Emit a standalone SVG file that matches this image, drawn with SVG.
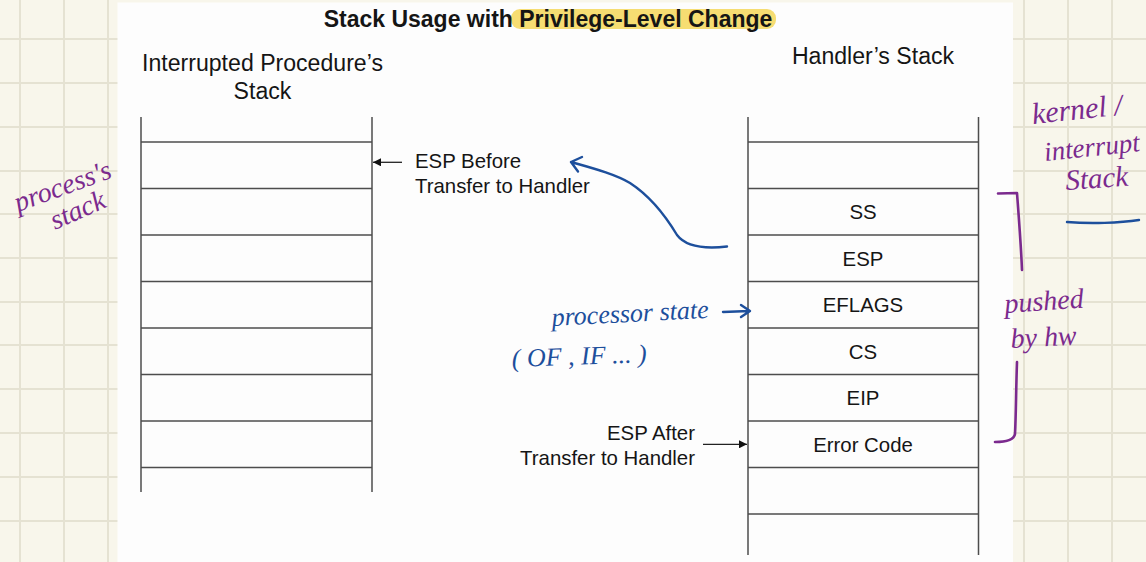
<svg xmlns="http://www.w3.org/2000/svg" width="1146" height="562" viewBox="0 0 1146 562">
<defs>
<style>
.grid{stroke:#e5e2d2;stroke-width:2}
.cell{stroke:#4d4d4d;stroke-width:1.5;fill:none}
.t{font-family:"Liberation Sans",Arial,sans-serif;fill:#151515}
.h{font-size:23.1px}
.b{font-size:20.4px}
.title{font-size:23px;font-weight:bold}
.conn{stroke:#222;stroke-width:1.3;fill:none}
.hw{font-family:"Liberation Serif",serif;font-style:italic}
.pur{fill:#7b2a8e}
.blu{fill:#1d4f9c}
.pstroke{stroke:#7b2a8e;stroke-width:2.6;fill:none;stroke-linecap:round;stroke-linejoin:round}
.bstroke{stroke:#1d4f9c;stroke-width:2.4;fill:none;stroke-linecap:round;stroke-linejoin:round}
</style>
<marker id="ah" viewBox="0 0 10 10" refX="10" refY="5" markerWidth="10" markerHeight="8" markerUnits="userSpaceOnUse" orient="auto">
<path d="M0,0 L10,5 L0,10 z" fill="#111"/>
</marker>
</defs>

<g id="background">
<rect x="0" y="0" width="1146" height="562" fill="#f8f6eb"/>
<g class="grid">
<line x1="20" y1="0" x2="20" y2="562"/>
<line x1="64" y1="0" x2="64" y2="562"/>
<line x1="108" y1="0" x2="108" y2="562"/>
<line x1="1024" y1="0" x2="1024" y2="562"/>
<line x1="1068" y1="0" x2="1068" y2="562"/>
<line x1="1112" y1="0" x2="1112" y2="562"/>
<line x1="0" y1="39" x2="1146" y2="39"/>
<line x1="0" y1="83" x2="1146" y2="83"/>
<line x1="0" y1="127" x2="1146" y2="127"/>
<line x1="0" y1="171" x2="1146" y2="171"/>
<line x1="0" y1="214" x2="1146" y2="214"/>
<line x1="0" y1="258" x2="1146" y2="258"/>
<line x1="0" y1="302" x2="1146" y2="302"/>
<line x1="0" y1="345" x2="1146" y2="345"/>
<line x1="0" y1="389" x2="1146" y2="389"/>
<line x1="0" y1="433" x2="1146" y2="433"/>
<line x1="0" y1="477" x2="1146" y2="477"/>
<line x1="0" y1="521" x2="1146" y2="521"/>
</g>
<rect x="117.5" y="2.5" width="895.5" height="560" fill="#fdfdfd"/>
</g>

<g id="title">
<rect x="511" y="9" width="265" height="20" rx="9" fill="#f6dd72"/>
<text class="t title" x="548" y="26.5" text-anchor="middle">Stack Usage with Privilege-Level Change</text>
</g>

<g id="left-stack">
<text class="t h" x="262.5" y="71" text-anchor="middle">Interrupted Procedure’s</text>
<text class="t h" x="262.5" y="98.5" text-anchor="middle">Stack</text>
<g class="cell">
<line x1="141" y1="117" x2="141" y2="492"/>
<line x1="372" y1="117" x2="372" y2="492"/>
<line x1="141" y1="142" x2="372" y2="142"/>
<line x1="141" y1="188.5" x2="372" y2="188.5"/>
<line x1="141" y1="235" x2="372" y2="235"/>
<line x1="141" y1="281.5" x2="372" y2="281.5"/>
<line x1="141" y1="328" x2="372" y2="328"/>
<line x1="141" y1="374.5" x2="372" y2="374.5"/>
<line x1="141" y1="421" x2="372" y2="421"/>
<line x1="141" y1="467.5" x2="372" y2="467.5"/>
</g>
</g>

<g id="right-stack">
<text class="t h" x="873" y="64" text-anchor="middle">Handler’s Stack</text>
<g class="cell">
<line x1="748" y1="117" x2="748" y2="555"/>
<line x1="978.5" y1="117" x2="978.5" y2="555"/>
<line x1="748" y1="142" x2="978.5" y2="142"/>
<line x1="748" y1="188.5" x2="978.5" y2="188.5"/>
<line x1="748" y1="235" x2="978.5" y2="235"/>
<line x1="748" y1="281.5" x2="978.5" y2="281.5"/>
<line x1="748" y1="328" x2="978.5" y2="328"/>
<line x1="748" y1="374.5" x2="978.5" y2="374.5"/>
<line x1="748" y1="421" x2="978.5" y2="421"/>
<line x1="748" y1="467.5" x2="978.5" y2="467.5"/>
<line x1="748" y1="514" x2="978.5" y2="514"/>
</g>
<g id="cell-ss"><text class="t b" x="863" y="219.2" text-anchor="middle">SS</text></g>
<g id="cell-esp"><text class="t b" x="863" y="265.7" text-anchor="middle">ESP</text></g>
<g id="cell-eflags"><text class="t b" x="863" y="312.2" text-anchor="middle">EFLAGS</text></g>
<g id="cell-cs"><text class="t b" x="863" y="358.7" text-anchor="middle">CS</text></g>
<g id="cell-eip"><text class="t b" x="863" y="405.2" text-anchor="middle">EIP</text></g>
<g id="cell-error"><text class="t b" x="863" y="451.8" text-anchor="middle">Error Code</text></g>
</g>

<g id="label-esp-before">
<text class="t b" x="415" y="167.5">ESP Before</text>
<text class="t b" x="415" y="192.7">Transfer to Handler</text>
</g>

<g id="label-esp-after">
<text class="t b" x="695" y="439.5" text-anchor="end">ESP After</text>
<text class="t b" x="695" y="464.5" text-anchor="end">Transfer to Handler</text>
</g>

<g id="connectors">
<line class="conn" x1="402" y1="162.3" x2="373" y2="162.3" marker-end="url(#ah)"/>
<line class="conn" x1="703" y1="444.3" x2="747" y2="444.3" marker-end="url(#ah)"/>
</g>

<g id="annotations">
<text class="hw pur" font-size="28" transform="translate(18,212) rotate(-20)">process's</text>
<text class="hw pur" font-size="28" transform="translate(55,230) rotate(-24)">stack</text>

<text class="hw pur" font-size="30" transform="translate(1033,124) rotate(-6)">kernel /</text>
<text class="hw pur" font-size="27" transform="translate(1045,161) rotate(-6)">interrupt</text>
<text class="hw pur" font-size="29" transform="translate(1066,190) rotate(-4)">Stack</text>
<path class="bstroke" d="M1067,222 C1090,224 1120,223 1139,220"/>

<path class="pstroke" d="M998,193.5 L1017,193 C1019,220 1021,245 1022,270"/>
<path class="pstroke" d="M1017,362 C1016,390 1016,415 1015,434 C1014,440 1005,442 995,442"/>
<text class="hw pur" font-size="28" transform="translate(1005,313) rotate(-4)">pushed</text>
<text class="hw pur" font-size="28" transform="translate(1011,348) rotate(-3)">by hw</text>

<text class="hw blu" font-size="26" transform="translate(552,326) rotate(-3)">processor state</text>
<path class="bstroke" d="M723,312 L749,311 M741,305 L750,311 L741,317"/>
<text class="hw blu" font-size="26" transform="translate(512,367) rotate(-2)">( OF , IF ... )</text>

<path class="bstroke" d="M727,246.5 C705,249 686,247 677,235 C665,215 650,196 630,183 C615,174 592,168 571,162 M571,162 L582,157 M571,162 L578,171.5"/>
</g>
</svg>
